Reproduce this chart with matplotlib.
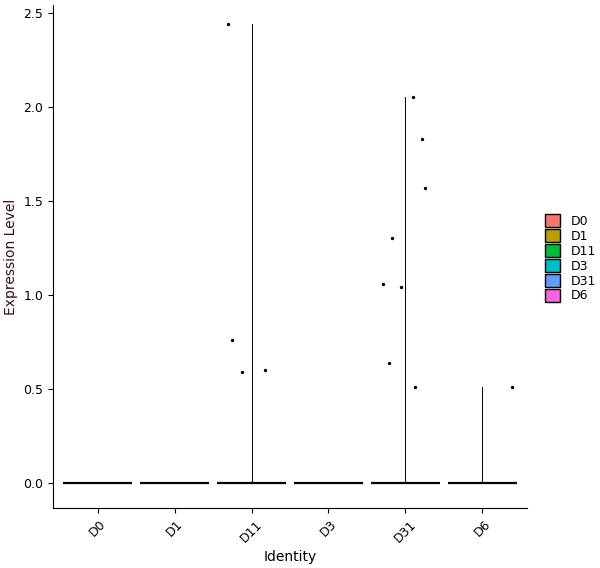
import matplotlib
matplotlib.use("Agg")
import matplotlib.pyplot as plt
from matplotlib.patches import Patch

idents = ["D0", "D1", "D11", "D3", "D31", "D6"]
colors = ["#F8766D", "#B79F00", "#00BA38", "#00BFC4", "#619CFF", "#F564E3"]
max_expr = [0, 0, 2.44, 0, 2.05, 0.51]
pt_group = ["D11"]*4 + ["D31"]*8 + ["D6"]
pt_offset = [-0.30, -0.25, -0.13, 0.17, -0.29, -0.18, -0.06, -0.21, 0.10, 0.21, 0.25, 0.12, 0.38]
pt_value = [2.44, 0.76, 0.59, 0.60, 1.06, 1.30, 1.04, 0.64, 2.05, 1.83, 1.57, 0.51, 0.51]

fig = plt.figure(figsize=(6, 5.68), dpi=100)
ax = fig.add_axes([53/600, 60/568, 474/600, 503/568])
for i, (g, m, c) in enumerate(zip(idents, max_expr, colors), start=1):
    ax.plot([i-0.45, i+0.45], [0, 0], color="black", lw=1.6, solid_capstyle="butt")
    if m > 0:
        ax.plot([i, i], [0, m], color="black", lw=0.7)
xs = [idents.index(g)+1+o for g, o in zip(pt_group, pt_offset)]
ax.scatter(xs, pt_value, s=2, color="black")
ax.set_xlim(0.42, 6.58)
ax.set_ylim(-0.133, 2.54)
ax.set_xticks(range(1, 7))
ax.set_xticklabels(idents, rotation=45, ha="center")
ax.set_yticks([0, 0.5, 1.0, 1.5, 2.0, 2.5])
ax.set_yticklabels(["0.0", "0.5", "1.0", "1.5", "2.0", "2.5"])
for s in ["top", "right"]:
    ax.spines[s].set_visible(False)
ax.set_xlabel("Identity", fontsize=10)
ax.set_ylabel("Expression Level", fontsize=10, color="#3a1010")
ax.tick_params(labelsize=9)
handles = [Patch(facecolor=c, edgecolor="black", label=g) for g, c in zip(idents, colors)]
fig.legend(handles=handles, loc="center left", bbox_to_anchor=(0.89, 0.545), frameon=False,
           handlelength=1.2, handleheight=1.2, labelspacing=0.1, fontsize=9)
fig.savefig("out.png")
